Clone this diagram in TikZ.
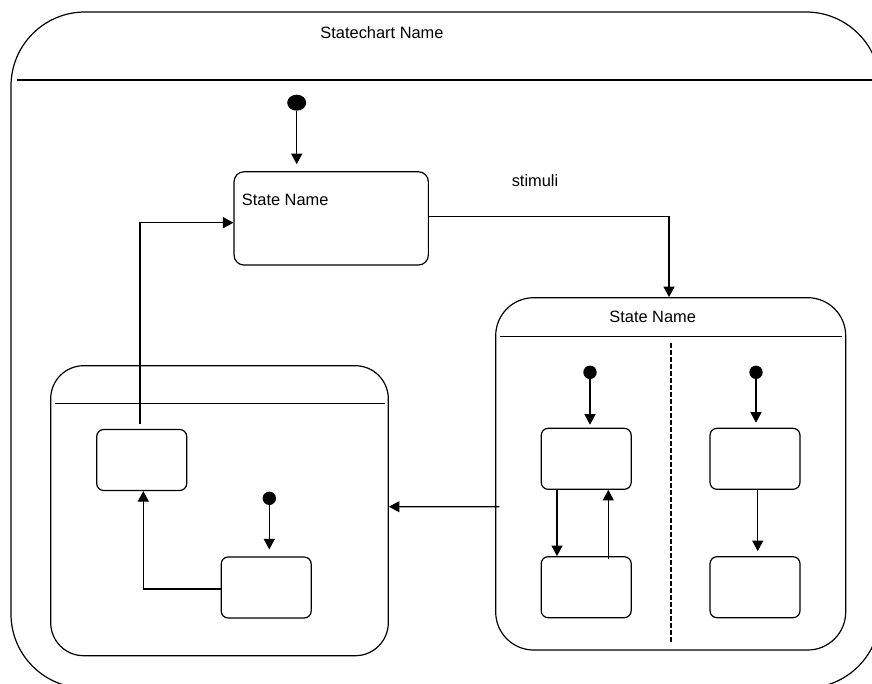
\documentclass[tikz,border=0pt]{standalone}
\usepackage{fontspec}
\setmainfont{Liberation Sans}
\usetikzlibrary{arrows.meta,calc,shapes.geometric}

\tikzset{
  lbl/.style={font=\fontsize{16.4}{19}\selectfont, inner sep=0pt},
  statebox/.style={draw, rounded corners=10pt, line width=1.2pt, inner sep=0pt},
  substate/.style={draw, rounded corners=7pt, line width=1.2pt, inner sep=0pt,
                   minimum width=90pt, minimum height=61pt},
  composite/.style={draw, rounded corners=38pt, line width=1.2pt, inner sep=0pt},
  initdot/.style={circle, fill=black, inner sep=0pt, minimum size=13.4pt},
  trans/.style={line width=1.2pt, -{Triangle[length=10.5pt,width=11pt]}},
  sepline/.style={line width=1.2pt},
  regionsep/.style={line width=1.8pt, dash pattern=on 4.5pt off 2.5pt},
}

\begin{document}
\begin{tikzpicture}[x=1pt, y=-1pt]
  \useasboundingbox (0,0) rectangle (872,683);
  \clip (0,0) rectangle (872,683);

  % outer statechart frame and its header
  \node[draw, rounded corners=74pt, line width=1.2pt, inner sep=0pt,
        minimum width=869pt, minimum height=676pt] (chart) at (445.5,350) {};
  \coordinate (hdrL) at (17,80);
  \coordinate (hdrR) at (880,80);
  \draw[sepline] (hdrL) -- (hdrR);
  \node[lbl] (charttitle) at (382,32.7) {Statechart Name};

  % top-level initial state and simple state
  \node[fill=black, ellipse, inner sep=0pt, minimum width=19pt, minimum height=16pt] (init0) at (296.7,102.7) {};
  \node[statebox, minimum width=194.3pt, minimum height=93.3pt] (st) at (331.2,218.4) {};
  \node[lbl, anchor=west] (stname) at (241.7,200) {State Name};
  \draw[trans, shorten >=7pt] (init0) -- (init0 |- st.north);

  % concurrent composite state (right)
  \node[composite, minimum width=350pt, minimum height=352.3pt] (compR) at (670.7,473.85) {};
  \node[lbl] (compRname) at (652.7,317.3) {State Name};
  \coordinate (compRhdrL) at (500,336.7);
  \coordinate (compRhdrR) at (842,336.7);
  \draw[sepline] (compRhdrL) -- (compRhdrR);
  \coordinate (dashT) at (670.7,343);
  \coordinate (dashB) at (670.7,643);
  \draw[regionsep] (dashT) -- (dashB);

  \node[initdot] (dotR1) at (590,372.3) {};
  \node[substate] (r1) at (586.2,458.8) {};
  \node[substate] (r2) at (586.2,587.2) {};
  \node[initdot] (dotR2) at (756,372.3) {};
  \node[substate] (r3) at (755,458.8) {};
  \node[substate] (r4) at (755,587.2) {};

  \draw[trans, shorten >=3pt] (dotR1) -- (dotR1 |- r1.north);
  \draw[trans] ($(r1.south)+(-29.2,0)$) -- ($(r2.north)+(-29.2,0)$);
  \draw[trans] ($(r2.north)+(22.1,3)$) -- ($(r1.south)+(22.1,0)$);
  \draw[trans, shorten >=5pt] (dotR2) -- (dotR2 |- r3.north);
  \draw[trans, shorten >=5pt] ($(r3.south)+(2.7,0)$) -- ($(r4.north)+(2.7,0)$);

  % sequential composite state (left)
  \node[composite, rounded corners=33pt, minimum width=337.6pt, minimum height=290pt] (compL) at (219.5,510.7) {};
  \coordinate (compLhdrL) at (55,403.3);
  \coordinate (compLhdrR) at (385,403.3);
  \draw[sepline] (compLhdrL) -- (compLhdrR);

  \node[substate] (la) at (141.7,460) {};
  \node[substate] (lb) at (266.2,587.5) {};
  \node[initdot] (dotL) at (269.3,498.3) {};

  \draw[trans, shorten >=7pt] (dotL) -- (dotL |- lb.north);
  \draw[trans] ($(lb.west)+(0,1.5)$) -| ($(la.south)+(1.6,0)$);

  % transitions between the top-level states
  \draw[trans] ($(st.east)+(0,-1.7)$) -| ($(compR.north)+(-1.7,0)$);
  \node[lbl] (stimuli) at (535,180.7) {stimuli};
  \draw[trans] ($(compR.west)+(4.3,32.8)$) -- ($(compL.east)+(0,-4)$);
  \draw[trans] ($(la.north)+(-1.7,-5)$) |- ($(st.west)+(0,4.3)$);
\end{tikzpicture}
\end{document}
